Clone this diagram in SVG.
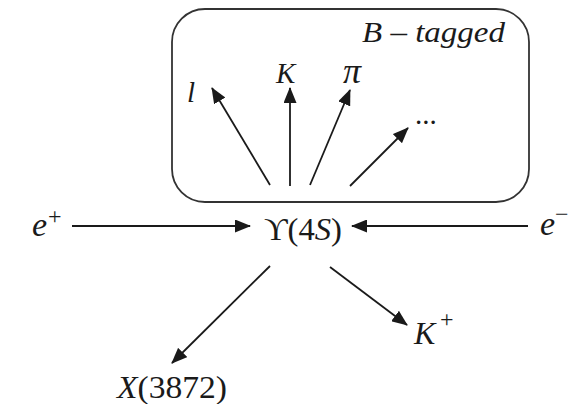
<svg xmlns="http://www.w3.org/2000/svg" width="569" height="404" viewBox="0 0 569 404">
<style>
  .lbl { font-family: "Liberation Serif", "DejaVu Serif", "Times New Roman", serif; font-size: 29px; fill: #1a1a1a; }
  .it { font-style: italic; }
  .big { font-size: 32px; }
  .sup { font-size: 24px; font-style: normal; }
  .conn { stroke: #1a1a1a; stroke-width: 1.8; fill: none; marker-end: url(#ah); }
  .box { fill: none; stroke: #333; stroke-width: 1.8; }
</style>
<defs>
  <marker id="ah" markerUnits="userSpaceOnUse" markerWidth="16" markerHeight="13" refX="15" refY="6.5" orient="auto">
    <path d="M0,0 L16,6.5 L0,13 z" fill="#1a1a1a"/>
  </marker>
</defs>
<rect x="0" y="0" width="569" height="404" fill="#fff"/>

<g id="btagged">
  <rect class="box" x="172" y="9" width="357" height="193" rx="33" ry="33"/>
  <text class="lbl it" x="362" y="42" textLength="143" lengthAdjust="spacingAndGlyphs">B – tagged</text>
</g>

<g id="node-l"><text class="lbl it" x="187" y="102">l</text></g>
<g id="node-K"><text class="lbl it" x="276" y="83">K</text></g>
<g id="node-pi"><text class="lbl it" x="343" y="83" style="font-size:36px">π</text></g>
<g id="node-dots"><text class="lbl" x="415" y="124">...</text></g>

<g id="node-eplus"><text class="lbl it big" x="32" y="236" style="font-size:34px">e</text><text class="lbl sup" x="48" y="224">+</text></g>
<g id="node-upsilon"><text class="lbl big" x="264" y="240" textLength="78" lengthAdjust="spacingAndGlyphs">ϒ(4<tspan class="it">S</tspan>)</text></g>
<g id="node-eminus"><text class="lbl it big" x="540" y="235" style="font-size:34px">e</text><text class="lbl sup" x="555" y="222">−</text></g>

<g id="node-X"><text class="lbl" x="117" y="398" style="font-size:31px" textLength="110" lengthAdjust="spacingAndGlyphs"><tspan class="it">X</tspan>(3872)</text></g>
<g id="node-Kplus"><text class="lbl it" x="414" y="344" style="font-size:32px">K</text><text class="lbl sup" x="440" y="327">+</text></g>

<g id="connectors">
  <line class="conn" x1="72" y1="226" x2="250" y2="226"/>
  <line class="conn" x1="528" y1="226" x2="352" y2="226"/>
  <line class="conn" x1="270" y1="185" x2="212" y2="88"/>
  <line class="conn" x1="290" y1="186" x2="290" y2="88"/>
  <line class="conn" x1="310" y1="185" x2="350" y2="90"/>
  <line class="conn" x1="350" y1="186" x2="408" y2="128"/>
  <line class="conn" x1="270" y1="266" x2="172" y2="363"/>
  <line class="conn" x1="330" y1="267" x2="407" y2="325"/>
</g>
</svg>
